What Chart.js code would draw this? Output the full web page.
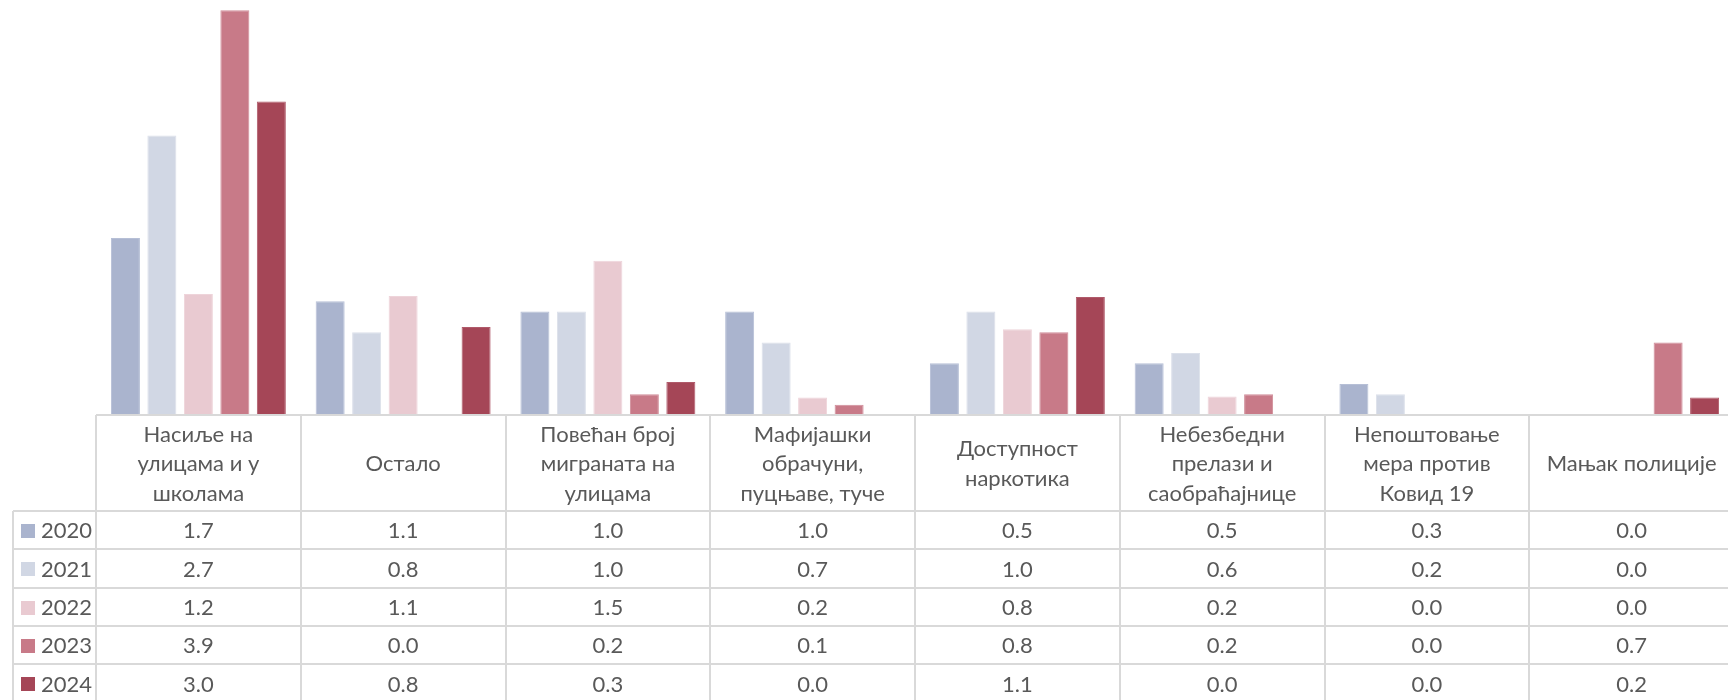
<!DOCTYPE html>
<html>
<head>
<meta charset="utf-8">
<script src="https://cdn.jsdelivr.net/npm/chart.js@4/dist/chart.umd.min.js"></script>
<style>
html,body{margin:0;padding:0;background:#fff;overflow:hidden;}
#wrap{width:1728px;height:700px;position:relative;overflow:hidden;}
</style>
</head>
<body>
<div id="wrap"><canvas id="c" width="1734" height="700"></canvas></div>
<script>
// ---- data ----
const categories = [
  ['Насиље на', 'улицама и у', 'школама'],
  ['Остало'],
  ['Повећан број', 'миграната на', 'улицама'],
  ['Мафијашки', 'обрачуни,', 'пуцњаве, туче'],
  ['Доступност', 'наркотика'],
  ['Небезбедни', 'прелази и', 'саобраћајнице'],
  ['Непоштовање', 'мера против', 'Ковид 19'],
  ['Мањак полиције']
];
const years = ['2020', '2021', '2022', '2023', '2024'];
const values2020 = [1.70, 1.09, 0.99, 0.99, 0.49, 0.49, 0.29, 0.00];
const values2021 = [2.69, 0.79, 0.99, 0.69, 0.99, 0.59, 0.19, 0.00];
const values2022 = [1.16, 1.14, 1.48, 0.16, 0.82, 0.17, 0.00, 0.00];
const values2023 = [3.90, 0.00, 0.19, 0.09, 0.79, 0.19, 0.00, 0.69];
const values2024 = [3.02, 0.84, 0.31, 0.00, 1.13, 0.00, 0.00, 0.16];
const yMin = 0;
const yMax = 4;

// ---- styles ----
const seriesColors = ['#aab4ce', '#d1d7e4', '#e9cad1', '#c87a88', '#a54657'];
const seriesBorders = ['#b6bfd6', '#dbe0ea', '#eed4da', '#d08d99', '#b05a6a'];
const textColor = '#595959';
const gridColor = '#d9d9d9';
const fontFamily = 'Lato, "Open Sans", sans-serif';

const allValues = [values2020, values2021, values2022, values2023, values2024];

const tablePlugin = {
  id: 'dataTable',
  afterDraw(chart) {
    const ctx = chart.ctx;
    const area = chart.chartArea;
    const x = chart.scales.x;
    const n = categories.length;
    const colW = (area.right - area.left) / n;
    const top = Math.round(area.bottom) + 1;
    const headerH = 96;
    const rowH = 38.33;
    const legendLeft = 13;
    const H = chart.height;
    ctx.save();
    ctx.strokeStyle = gridColor;
    ctx.lineWidth = 2;
    const line = (x1, y1, x2, y2) => {
      ctx.beginPath(); ctx.moveTo(x1, y1); ctx.lineTo(x2, y2); ctx.stroke();
    };
    // axis / header top line
    line(area.left, top, area.right, top);
    // column boundaries
    for (let i = 0; i <= n; i++) {
      const bx = Math.round(area.left + i * colW);
      line(bx, top, bx, H);
    }
    // row lines
    for (let r = 0; r < years.length; r++) {
      const ry = Math.round(top + headerH + r * rowH);
      line(legendLeft, ry, area.right, ry);
    }
    line(legendLeft, top + headerH, legendLeft, H);

    // header text
    ctx.fillStyle = textColor;
    ctx.textAlign = 'center';
    ctx.textBaseline = 'middle';
    ctx.font = '22px ' + fontFamily;
    const lh = 29.5;
    const headerMid = top + headerH / 2 + 1;
    categories.forEach((lines, i) => {
      const cx = x.getPixelForValue(i);
      const startY = headerMid - (lines.length - 1) * lh / 2;
      lines.forEach((t, k) => ctx.fillText(t, cx, startY + k * lh));
    });
    // rows
    years.forEach((yr, r) => {
      const cy = top + headerH + r * rowH + rowH / 2 + 1;
      // legend key
      ctx.fillStyle = seriesColors[r];
      ctx.fillRect(21, Math.round(cy - 7), 14, 14);
      ctx.fillStyle = textColor;
      ctx.textAlign = 'left';
      ctx.fillText(yr, 41, cy);
      ctx.textAlign = 'center';
      allValues[r].forEach((v, i) => {
        ctx.fillText(v.toFixed(1), x.getPixelForValue(i), cy);
      });
    });
    ctx.restore();
  }
};

new Chart(document.getElementById('c'), {
  type: 'bar',
  data: {
    labels: categories.map(l => l.join(' ')),
    datasets: years.map((yr, i) => ({
      label: yr,
      data: allValues[i],
      backgroundColor: seriesColors[i],
      borderColor: seriesBorders[i],
      borderWidth: 1,
      categoryPercentage: 0.891,
      barPercentage: 0.795
    }))
  },
  options: {
    responsive: false,
    animation: false,
    devicePixelRatio: 1,
    layout: { padding: { left: 96, right: 0, top: 0, bottom: 286 } },
    plugins: { legend: { display: false }, tooltip: { enabled: false } },
    scales: {
      x: { display: false },
      y: { display: false, min: yMin, max: yMax }
    }
  },
  plugins: [tablePlugin]
});
</script>
</body>
</html>
